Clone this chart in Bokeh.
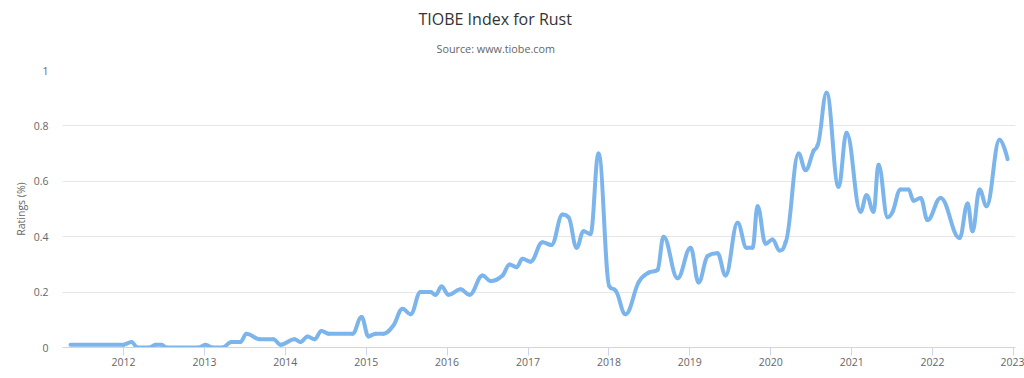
from bokeh.plotting import figure
from bokeh.models import FixedTicker, Title, Range1d
from bokeh.embed import file_html
from bokeh.resources import INLINE

# ---- data ----
years = [2011.345, 2012.000, 2012.099, 2012.173, 2012.321, 2012.396, 2012.470, 2012.532,
         2012.927, 2013.014, 2013.100, 2013.224, 2013.335, 2013.446, 2013.520, 2013.681,
         2013.854, 2013.941, 2014.114, 2014.188, 2014.274, 2014.361, 2014.447, 2014.534,
         2014.831, 2014.942, 2015.028, 2015.115, 2015.214, 2015.337, 2015.449, 2015.548,
         2015.671, 2015.795, 2015.857, 2015.931, 2016.017, 2016.166, 2016.277, 2016.438,
         2016.536, 2016.685, 2016.771, 2016.858, 2016.932, 2017.031, 2017.179, 2017.290,
         2017.426, 2017.501, 2017.600, 2017.686, 2017.772, 2017.871, 2018.007, 2018.082,
         2018.205, 2018.366, 2018.489, 2018.601, 2018.675, 2018.848, 2019.009, 2019.108,
         2019.219, 2019.342, 2019.441, 2019.590, 2019.701, 2019.775, 2019.837, 2019.936,
         2020.022, 2020.109, 2020.183, 2020.344, 2020.430, 2020.529, 2020.578, 2020.690,
         2020.838, 2020.937, 2021.110, 2021.184, 2021.271, 2021.332, 2021.444, 2021.506,
         2021.604, 2021.703, 2021.765, 2021.852, 2021.938, 2022.099, 2022.334, 2022.433,
         2022.494, 2022.581, 2022.667, 2022.828, 2022.927]
ratings = [0.01, 0.01, 0.02, 0.0, 0.0, 0.01, 0.01, 0.0,
           0.0, 0.01, 0.0, 0.0, 0.02, 0.02, 0.05, 0.03,
           0.03, 0.01, 0.03, 0.02, 0.04, 0.03, 0.06, 0.05,
           0.05, 0.11, 0.04, 0.05, 0.05, 0.08, 0.14, 0.12,
           0.20, 0.20, 0.19, 0.22, 0.19, 0.21, 0.19, 0.26,
           0.24, 0.26, 0.30, 0.29, 0.32, 0.31, 0.38, 0.37,
           0.48, 0.47, 0.36, 0.42, 0.41, 0.70, 0.22, 0.205,
           0.12, 0.235, 0.27, 0.28, 0.40, 0.25, 0.36, 0.235,
           0.33, 0.34, 0.26, 0.45, 0.36, 0.36, 0.51, 0.375,
           0.39, 0.35, 0.38, 0.70, 0.64, 0.71, 0.73, 0.92,
           0.58, 0.775, 0.49, 0.55, 0.49, 0.66, 0.47, 0.49,
           0.57, 0.57, 0.53, 0.54, 0.46, 0.54, 0.395, 0.52,
           0.42, 0.57, 0.51, 0.75, 0.68]

x_ticks = [2012, 2013, 2014, 2015, 2016, 2017, 2018, 2019, 2020, 2021, 2022, 2023]
y_ticks = [0, 0.2, 0.4, 0.6, 0.8, 1]
y_tick_labels = ["0", "0.2", "0.4", "0.6", "0.8", "1"]

title_text = "TIOBE Index for Rust"
subtitle_text = "Source: www.tiobe.com"
y_label = "Ratings (%)"

# ---- spline control points (Highcharts-style smoothing) ----
def spline_controls(xs, ys, smoothing=1.5):
    n = len(xs)
    denom = smoothing + 1
    lc = [(xs[i], ys[i]) for i in range(n)]
    rc = [(xs[i], ys[i]) for i in range(n)]
    for i in range(1, n - 1):
        px, py = xs[i], ys[i]
        lx, ly = xs[i - 1], ys[i - 1]
        nx, ny = xs[i + 1], ys[i + 1]
        lcx = (smoothing * px + lx) / denom
        lcy = (smoothing * py + ly) / denom
        rcx = (smoothing * px + nx) / denom
        rcy = (smoothing * py + ny) / denom
        corr = 0.0
        if rcx != lcx:
            corr = ((rcy - lcy) * (rcx - px)) / (rcx - lcx) + py - rcy
        lcy += corr
        rcy += corr
        if lcy > ly and lcy > py:
            lcy = max(ly, py)
            rcy = 2 * py - lcy
        elif lcy < ly and lcy < py:
            lcy = min(ly, py)
            rcy = 2 * py - lcy
        if rcy > ny and rcy > py:
            rcy = max(ny, py)
            lcy = 2 * py - rcy
        elif rcy < ny and rcy < py:
            rcy = min(ny, py)
            lcy = 2 * py - rcy
        lc[i] = (lcx, lcy)
        rc[i] = (rcx, rcy)
    seg = dict(x0=[], y0=[], x1=[], y1=[], cx0=[], cy0=[], cx1=[], cy1=[])
    for i in range(1, n):
        seg["x0"].append(xs[i - 1]); seg["y0"].append(ys[i - 1])
        seg["x1"].append(xs[i]); seg["y1"].append(ys[i])
        seg["cx0"].append(rc[i - 1][0]); seg["cy0"].append(rc[i - 1][1])
        seg["cx1"].append(lc[i][0]); seg["cy1"].append(lc[i][1])
    return seg

seg = spline_controls(years, ratings)

FONT = "Open Sans"

p = figure(width=1024, height=378, output_backend="svg", toolbar_location=None,
           x_range=Range1d(2011.246, 2023.025), y_range=Range1d(0, 1),
           min_border_left=62, min_border_right=9, min_border_top=70, min_border_bottom=31)
p.outline_line_color = None
p.background_fill_color = "white"
p.border_fill_color = "white"

p.bezier(x0=seg["x0"], y0=seg["y0"], x1=seg["x1"], y1=seg["y1"],
         cx0=seg["cx0"], cy0=seg["cy0"], cx1=seg["cx1"], cy1=seg["cy1"],
         line_color="#7cb5ec", line_width=4, line_cap="round")

# titles
p.add_layout(Title(text=subtitle_text, align="left", offset=374, text_font=FONT,
                   text_font_size="10.8px", text_font_style="normal",
                   text_color="#666666", standoff=30), "above")
p.add_layout(Title(text=title_text, align="left", offset=356, text_font=FONT,
                   text_font_size="16px", text_font_style="normal",
                   text_color="#333333", standoff=-12), "above")

# x axis
xa = p.xaxis[0]
xa.ticker = FixedTicker(ticks=x_ticks)
xa.major_label_overrides = {t: str(t) for t in x_ticks}
xa.axis_line_color = "#ccd6eb"
xa.major_tick_line_color = "#ccd6eb"
xa.major_tick_out = 8
xa.major_tick_in = 0
xa.minor_tick_line_color = None
xa.major_label_standoff = 2
xa.major_label_text_font = FONT
xa.major_label_text_font_size = "10.5px"
xa.major_label_text_color = "#666666"

# y axis
ya = p.yaxis[0]
ya.ticker = FixedTicker(ticks=y_ticks)
ya.major_label_overrides = {t: l for t, l in zip(y_ticks, y_tick_labels)}
ya.axis_line_color = None
ya.major_tick_line_color = None
ya.minor_tick_line_color = None
ya.major_tick_out = 0
ya.major_tick_in = 0
ya.major_label_standoff = 14
ya.major_label_text_font = FONT
ya.major_label_text_font_size = "10.5px"
ya.major_label_text_color = "#666666"
ya.axis_label = y_label
ya.axis_label_text_font = FONT
ya.axis_label_text_font_size = "10.5px"
ya.axis_label_text_font_style = "normal"
ya.axis_label_text_color = "#666666"
ya.axis_label_standoff = 3

p.xgrid.grid_line_color = None
p.ygrid.grid_line_color = "#e6e6e6"
p.ygrid.ticker = FixedTicker(ticks=y_ticks)

open("out.html", "w").write(file_html(p, INLINE))
